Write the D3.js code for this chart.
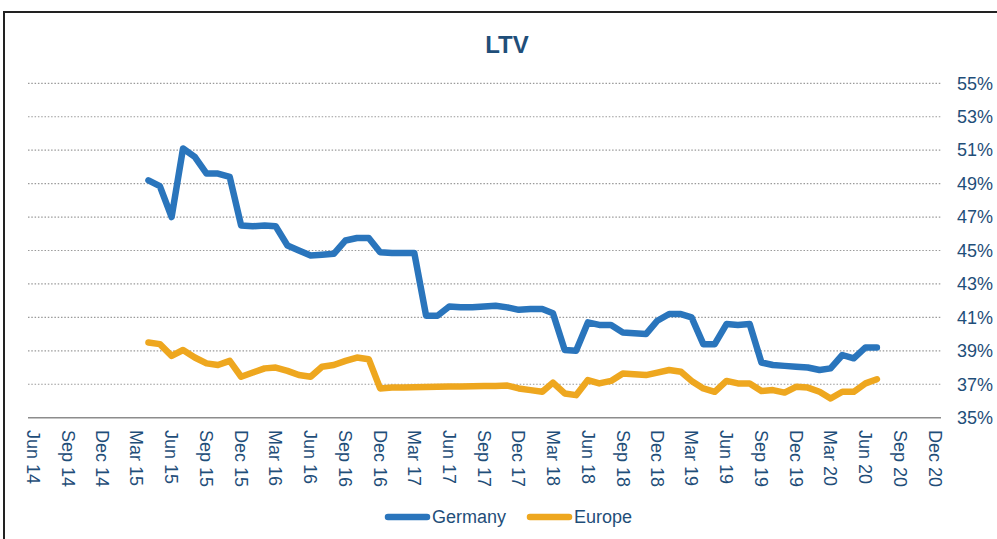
<!DOCTYPE html>
<html>
<head>
<meta charset="utf-8">
<script src="https://cdn.jsdelivr.net/npm/d3@7"></script>
<style>
  html, body { margin: 0; padding: 0; background: #fff; }
  svg { display: block; font-family: "Liberation Sans", Arial, sans-serif; }
</style>
</head>
<body>
<svg id="chart" width="997" height="539"></svg>
<script>
// Monthly observations
const months = [
  "2015-04","2015-05","2015-06","2015-07","2015-08","2015-09","2015-10","2015-11","2015-12",
  "2016-01","2016-02","2016-03","2016-04","2016-05","2016-06","2016-07","2016-08","2016-09","2016-10","2016-11","2016-12",
  "2017-01","2017-02","2017-03","2017-04","2017-05","2017-06","2017-07","2017-08","2017-09","2017-10","2017-11","2017-12",
  "2018-01","2018-02","2018-03","2018-04","2018-05","2018-06","2018-07","2018-08","2018-09","2018-10","2018-11","2018-12",
  "2019-01","2019-02","2019-03","2019-04","2019-05","2019-06","2019-07","2019-08","2019-09","2019-10","2019-11","2019-12",
  "2020-01","2020-02","2020-03","2020-04","2020-05","2020-06","2020-07"
];

// LTV, percent
const germany = [
  49.2, 48.85, 47.0, 51.1, 50.6, 49.6, 49.6, 49.4, 46.5,
  46.45, 46.5, 46.45, 45.3, 45.0, 44.7, 44.75, 44.8, 45.6, 45.75, 45.75, 44.9,
  44.85, 44.85, 44.85, 41.1, 41.1, 41.65, 41.6, 41.6, 41.65, 41.7, 41.6, 41.45,
  41.5, 41.5, 41.25, 39.05, 39.0, 40.7, 40.55, 40.55, 40.1, 40.05, 40.0, 40.8,
  41.2, 41.2, 41.0, 39.4, 39.4, 40.6, 40.55, 40.6, 38.3, 38.15, 38.1, 38.05,
  38.0, 37.85, 37.95, 38.75, 38.55, 39.2, 39.2
];
const europe = [
  39.5, 39.4, 38.7, 39.05, 38.6, 38.25, 38.15, 38.4, 37.45,
  37.7, 37.95, 38.0, 37.8, 37.55, 37.45, 38.05, 38.15, 38.4, 38.6, 38.5, 36.75,
  36.8, 36.8, 36.82, 36.83, 36.85, 36.86, 36.87, 36.88, 36.9, 36.9, 36.92, 36.75,
  36.65, 36.55, 37.1, 36.45, 36.35, 37.25, 37.05, 37.2, 37.65, 37.6, 37.55, 37.7,
  37.85, 37.75, 37.2, 36.75, 36.55, 37.2, 37.05, 37.05, 36.6, 36.65, 36.5, 36.85,
  36.8, 36.55, 36.15, 36.55, 36.55, 37.05, 37.3
];

const xTickLabels = [
  "Jun 14","Sep 14","Dec 14","Mar 15","Jun 15","Sep 15","Dec 15","Mar 16","Jun 16",
  "Sep 16","Dec 16","Mar 17","Jun 17","Sep 17","Dec 17","Mar 18","Jun 18","Sep 18",
  "Dec 18","Mar 19","Jun 19","Sep 19","Dec 19","Mar 20","Jun 20","Sep 20","Dec 20"
];
const yTicks = [35, 37, 39, 41, 43, 45, 47, 49, 51, 53, 55];

const seriesNames = ["Germany", "Europe"];
const seriesColors = ["#2A75BC", "#EEA71F"];
const textColor = "#1F4E79";

const svg = d3.select("#chart");
const parseMonth = d3.timeParse("%Y-%m");
const parseTick = d3.timeParse("%b %y");
const tickDates = xTickLabels.map(parseTick);

const x = d3.scaleTime()
  .domain([tickDates[0], tickDates[tickDates.length - 1]])
  .range([33, 935]);
const y = d3.scaleLinear().domain([35, 55]).range([417.7, 83.3]);

const plotLeft = 28, plotRight = 941;

// outer frame
svg.append("rect")
  .attr("x", 4).attr("y", 12)
  .attr("width", 1000).attr("height", 540)
  .attr("fill", "none").attr("stroke", "#222").attr("stroke-width", 2);

// title
svg.append("text")
  .attr("x", 507).attr("y", 53)
  .attr("text-anchor", "middle")
  .attr("font-size", 24).attr("font-weight", "bold")
  .attr("fill", textColor)
  .text("LTV");

// horizontal gridlines
svg.append("g")
  .selectAll("line")
  .data(yTicks.filter(t => t !== 35))
  .join("line")
  .attr("x1", plotLeft).attr("x2", plotRight)
  .attr("y1", d => y(d)).attr("y2", d => y(d))
  .attr("stroke", "#9a9a9a").attr("stroke-width", 1.2)
  .attr("stroke-dasharray", "1.5,1.8");

// baseline
svg.append("line")
  .attr("x1", plotLeft).attr("x2", plotRight)
  .attr("y1", y(35)).attr("y2", y(35))
  .attr("stroke", "#8c8c8c").attr("stroke-width", 1.5);

// right-side value axis
const yAxis = d3.axisRight(y).tickValues(yTicks).tickSize(0).tickPadding(0)
  .tickFormat(d => d + "%");
const yg = svg.append("g").attr("transform", "translate(957,0)").call(yAxis);
yg.select(".domain").remove();
yg.selectAll("text")
  .attr("font-size", 18)
  .attr("fill", textColor)
  .attr("font-family", "Liberation Sans, Arial, sans-serif");

// bottom date axis with vertical labels
const xAxis = d3.axisBottom(x).tickValues(tickDates).tickSize(0)
  .tickFormat((d, i) => xTickLabels[i]);
const xg = svg.append("g").call(xAxis);
xg.select(".domain").remove();
xg.selectAll(".tick").attr("transform", d => `translate(${x(d)},430)`);
xg.selectAll("text")
  .attr("y", 0).attr("x", 0).attr("dy", "0.35em")
  .attr("transform", "rotate(90)")
  .attr("text-anchor", "start")
  .attr("font-size", 18)
  .attr("fill", textColor)
  .attr("font-family", "Liberation Sans, Arial, sans-serif");

// series lines
const rows = months.map((m, i) => ({ date: parseMonth(m), values: [germany[i], europe[i]] }));
const line = idx => d3.line()
  .x(d => x(d.date))
  .y(d => y(d.values[idx]));

[1, 0].forEach(idx => {
  svg.append("path")
    .datum(rows)
    .attr("d", line(idx))
    .attr("fill", "none")
    .attr("stroke", seriesColors[idx])
    .attr("stroke-width", 6.5)
    .attr("stroke-linejoin", "round")
    .attr("stroke-linecap", "round");
});

// legend
const legend = svg.append("g");
const legendItems = [{ x: 388, name: seriesNames[0], c: seriesColors[0] },
                     { x: 530, name: seriesNames[1], c: seriesColors[1] }];
legendItems.forEach(it => {
  legend.append("line")
    .attr("x1", it.x).attr("x2", it.x + 39)
    .attr("y1", 517).attr("y2", 517)
    .attr("stroke", it.c).attr("stroke-width", 6.5)
    .attr("stroke-linecap", "round");
  legend.append("text")
    .attr("x", it.x + 44).attr("y", 517).attr("dy", "0.35em")
    .attr("font-size", 18).attr("fill", textColor)
    .text(it.name);
});
</script>
</body>
</html>
